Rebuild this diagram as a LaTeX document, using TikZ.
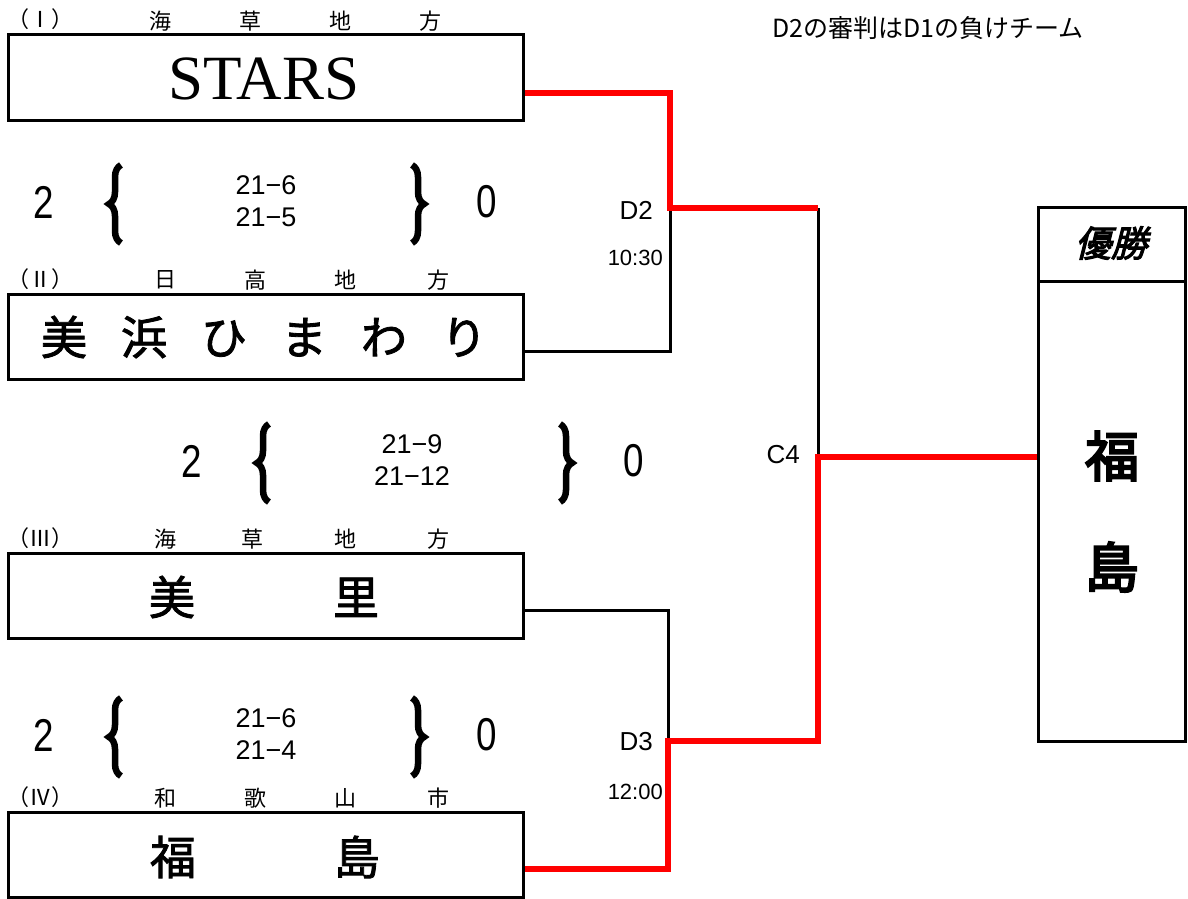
\documentclass[tikz,border=0pt]{standalone}
\usepackage{fontspec}
\setmainfont{Liberation Serif}
\newfontfamily\jp{Noto Sans CJK JP}
\newfontfamily\jpm[FakeBold=1.8]{Noto Sans CJK JP}
\newfontfamily\jpb[FakeBold=4]{Noto Sans CJK JP}
\newfontfamily\jpbi[FakeBold=3,FakeSlant=0.25]{Noto Sans CJK JP}
\newfontfamily\gsans{Liberation Sans}
\newfontfamily\gnarrow[FakeStretch=0.8]{Liberation Sans}
\usetikzlibrary{decorations.pathreplacing,calc}
\begin{document}
\begin{tikzpicture}[x=1pt,y=-1pt,
  teambox/.style={draw,line width=3pt,minimum width=515pt,minimum height=85pt,inner sep=0pt},
  hdr/.style={font=\jp\fontsize{22}{24}\selectfont,inner sep=0pt},
  tname/.style={font=\jpm\fontsize{46}{48}\selectfont,inner sep=0pt},
  score/.style={font=\gsans\fontsize{27}{32}\selectfont,align=center,inner sep=0pt},
  bignum/.style={font=\gnarrow\fontsize{46}{48}\selectfont,inner sep=0pt},
  lbl/.style={font=\gsans\fontsize{26}{28}\selectfont,inner sep=0pt,anchor=east},
  tlbl/.style={font=\gsans\fontsize{22}{24}\selectfont,inner sep=0pt,anchor=east},
  brc/.style={decorate,decoration={brace,amplitude=12pt},line width=6.5pt},
  winline/.style={draw=red,line width=6pt},
  loseline/.style={draw=black,line width=3pt}]
\useasboundingbox (0,0) rectangle (1188,899);
% note
\node[font=\jp\fontsize{25}{27}\selectfont,inner sep=0pt] (note) at (928,28) {D2の審判はD1の負けチーム};
% team boxes
\node[teambox] (t1) at (265.5,77.5) {};
\node[teambox] (t2) at (265.5,337) {};
\node[teambox] (t3) at (265.5,596) {};
\node[teambox] (t4) at (265.5,855) {};
% names
\node[font=\fontsize{63}{65}\selectfont,inner sep=0pt] (n1) at (264,79) {STARS};
\node[tname] (n2) at (264,337) {美\hspace{34pt}浜\hspace{34pt}ひ\hspace{34pt}ま\hspace{34pt}わ\hspace{34pt}り};
\node[tname] (n3) at (264,597) {美\hspace{138pt}里};
\node[tname] (n4) at (265,857) {福\hspace{138pt}島};
% headers
\node[hdr] (h1) at (40,19) {（Ⅰ）};
\node[hdr] (h1a) at (160,21) {海};
\node[hdr] (h1b) at (250,21) {草};
\node[hdr] (h1c) at (340,21) {地};
\node[hdr] (h1d) at (430,21) {方};
\node[hdr] (h2) at (40,279) {（Ⅱ）};
\node[hdr] (h2a) at (165,280) {日};
\node[hdr] (h2b) at (255,280) {高};
\node[hdr] (h2c) at (345,280) {地};
\node[hdr] (h2d) at (438,280) {方};
\node[hdr] (h3) at (40,538) {（Ⅲ）};
\node[hdr] (h3a) at (165,539) {海};
\node[hdr] (h3b) at (252,539) {草};
\node[hdr] (h3c) at (345,539) {地};
\node[hdr] (h3d) at (438,539) {方};
\node[hdr] (h4) at (40,797) {（Ⅳ）};
\node[hdr] (h4a) at (165,798) {和};
\node[hdr] (h4b) at (255,798) {歌};
\node[hdr] (h4c) at (345,798) {山};
\node[hdr] (h4d) at (438,798) {市};
% scores row 1
\node[bignum] (s1l) at (44,202) {2};
\node[bignum] (s1r) at (487,202) {0};
\node[score] (s1) at (266,201) {21−6\\21−5};
\draw[brc] (121,243) -- (121,165);
\draw[brc] (412,165) -- (412,243);
% scores row 2
\node[bignum] (s2l) at (192,461) {2};
\node[bignum] (s2r) at (634,461) {0};
\node[score] (s2) at (412,460) {21−9\\21−12};
\draw[brc] (269,502) -- (269,424);
\draw[brc] (560,424) -- (560,502);
% scores row 3
\node[bignum] (s3l) at (44,735) {2};
\node[bignum] (s3r) at (487,735) {0};
\node[score] (s3) at (266,734) {21−6\\21−4};
\draw[brc] (121,776) -- (121,698);
\draw[brc] (412,698) -- (412,776);
% winner box
\node[draw,line width=3pt,minimum width=147pt,minimum height=534pt,inner sep=0pt] (win) at (1111.5,474) {};
\draw[line width=3pt] (1038,281) -- (1185,281);
\node[font=\jpbi\fontsize{36}{38}\selectfont,inner sep=0pt] (wt) at (1111,243) {優勝};
\node[font=\jpb\fontsize{54}{56}\selectfont,inner sep=0pt] (w1) at (1112,456) {福};
\node[font=\jpb\fontsize{54}{56}\selectfont,inner sep=0pt] (w2) at (1112,567) {島};
% bracket coordinates
\coordinate (d2) at (670,208);
\coordinate (d3) at (668,741);
\coordinate (c4) at (818,457);
% connectors
\draw[loseline] ($(t2.east)+(0,14)$) -| (d2);
\draw[loseline] (d2 -| c4) -- (c4);
\draw[loseline] ($(t3.east)+(0,14)$) -| (d3);
\draw[winline] ($(t1.east)+(0,15.5)$) -| (d2) -- (d2 -| c4);
\draw[winline] ($(t4.east)+(0,14)$) -| (d3) -- (d3 -| c4) -- (c4) -- (c4 -| win.west);
% labels
\node[lbl] (ld2) at (653,210) {D2};
\node[tlbl] (td2) at (663,258) {10:30};
\node[lbl] (lc4) at (800,455) {C4};
\node[lbl] (ld3) at (653,742) {D3};
\node[tlbl] (td3) at (663,792) {12:00};
\end{tikzpicture}
\end{document}
